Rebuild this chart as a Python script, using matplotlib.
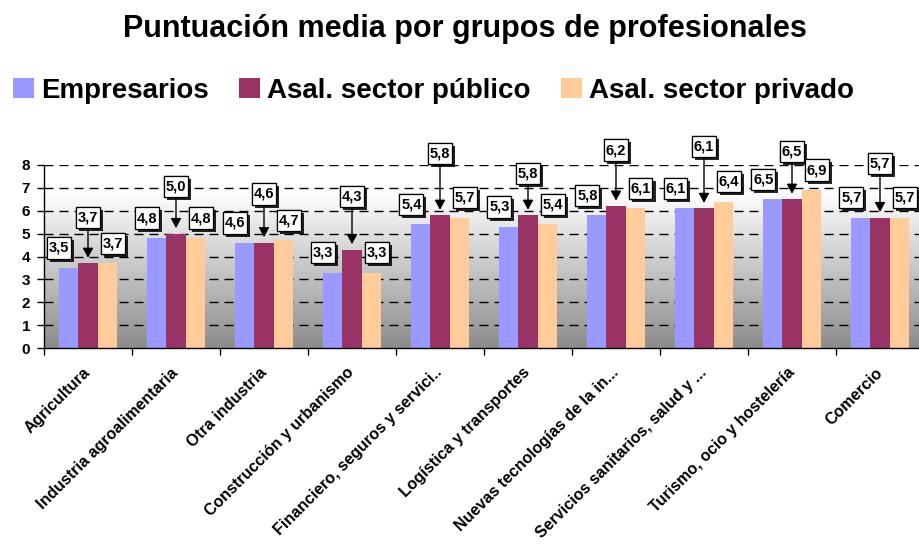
import matplotlib
matplotlib.use("Agg")
import matplotlib.pyplot as plt
import matplotlib.patheffects as pe
from matplotlib.patches import Patch
from matplotlib.path import Path
import numpy as np

plt.rcParams["font.family"] = ["Liberation Sans", "DejaVu Sans"]

categories = ["Agricultura", "Industria agroalimentaria", "Otra industria",
              "Construcción y urbanismo", "Financiero, seguros y servici..",
              "Logística y transportes", "Nuevas tecnologías de la in...",
              "Servicios sanitarios, salud y ...", "Turismo, ocio y hostelería",
              "Comercio"]
series_names = ["Empresarios", "Asal. sector público", "Asal. sector privado"]
empresarios = [3.5, 4.8, 4.6, 3.3, 5.4, 5.3, 5.8, 6.1, 6.5, 5.7]
publico = [3.7, 5.0, 4.6, 4.3, 5.8, 5.8, 6.2, 6.1, 6.5, 5.7]
privado = [3.7, 4.8, 4.7, 3.3, 5.7, 5.4, 6.1, 6.4, 6.9, 5.7]
y_ticks = [0, 1, 2, 3, 4, 5, 6, 7, 8]

colors = ["#9999FF", "#993366", "#FFCC99"]
# how high (pixels) the "público" call-out sits above its bar, as placed in the original
pub_rise = [46, 47, 49, 53, 62, 42, 56, 62, 48, 54]

W, H = 920, 547
fig = plt.figure(figsize=(W / 100, H / 100), dpi=100)
ax = fig.add_axes([44 / W, 1 - 348 / H, 880 / W, 183 / H])

x = np.arange(len(categories))
bw = 0.223
ax.set_xlim(-0.5, len(categories) - 0.5)
ax.set_ylim(0, 8)

# grey-to-white plot area fill
yy = np.linspace(0, 8, 200)
shade = np.clip(0.55 + 0.45 * yy / 6.8, 0, 1)
grad = np.repeat(shade[:, None], 3, axis=1)[:, None, :]
ax.imshow(grad, extent=(-0.5, len(categories) - 0.5, 0, 8), origin="lower",
          aspect="auto", zorder=0, interpolation="bilinear")

for v in y_ticks[1:]:
    ax.axhline(v, color="black", lw=1, ls=(0, (6.5, 4.3)), zorder=1)

for k, vals in enumerate([empresarios, publico, privado]):
    ax.bar(x + (k - 1) * bw, vals, width=bw, color=colors[k], zorder=2,
           label=series_names[k])


def fmt(v):
    return f"{v:.1f}".replace(".", ",")


def tall_box(x0, y0, width, height, mutation_size):
    # Excel's label boxes are nearly square: little side padding, more top/bottom
    px, py = 0.12 * mutation_size, 0.26 * mutation_size
    a, b = x0 - px, y0 - py
    c, d = x0 + width + px, y0 + height + py
    return Path([(a, b), (c, b), (c, d), (a, d), (a, b)], closed=True)


def callout(xp, yp, dx, dy, arrow=False):
    kw = dict(xy=(xp, yp), xytext=(dx, dy), textcoords="offset pixels",
              ha="center", va="center", fontsize=10.5, fontweight="bold",
              zorder=6, annotation_clip=False,
              bbox=dict(boxstyle=tall_box, fc="white", ec="black", lw=0.9))
    if arrow:
        kw["arrowprops"] = dict(arrowstyle="-|>,head_length=0.55,head_width=0.3",
                                color="black", lw=1, shrinkA=0, shrinkB=4)
    ann = ax.annotate(fmt(yp), **kw)
    ann.get_bbox_patch().set_path_effects(
        [pe.withSimplePatchShadow(offset=(2.2, -2.2), shadow_rgbFace="black", alpha=0.85),
         pe.Normal()])
    return ann


for i in range(len(categories)):
    callout(x[i] - bw, empresarios[i], -9, 20)
for i in range(len(categories)):
    callout(x[i], publico[i], 0, pub_rise[i], arrow=True)
for i in range(len(categories)):
    callout(x[i] + bw, privado[i], 5, 20)

for s in ["top", "right"]:
    ax.spines[s].set_visible(False)
for s in ["left", "bottom"]:
    ax.spines[s].set_color("black")
    ax.spines[s].set_linewidth(1)
    ax.spines[s].set_zorder(3)

ax.set_yticks(y_ticks)
ax.set_yticklabels([str(v) for v in y_ticks], fontsize=11, fontweight="bold")
ax.tick_params(axis="y", length=5, width=1, pad=5)

ax.set_xticks(x)
ax.set_xticklabels(categories, rotation=45, ha="right", va="center",
                   rotation_mode="anchor", fontsize=11.5, fontweight="bold")
ax.set_xticks(np.arange(-0.5, len(categories)), minor=True)
ax.tick_params(axis="x", which="major", length=0, pad=16)
ax.tick_params(axis="x", which="minor", length=5, width=1)

fig.text(465 / W, 1 - 37 / H, "Puntuación media por grupos de profesionales",
         ha="center", va="baseline", fontsize=22, fontweight="bold")

handles = [Patch(facecolor=c, edgecolor="none") for c in colors]
fig.legend(handles, series_names, loc="center left", bbox_to_anchor=(13 / W, 1 - 91 / H),
           ncol=3, frameon=False, borderpad=0, borderaxespad=0,
           handlelength=0.75, handleheight=0.75, handletextpad=0.25, columnspacing=1.1,
           prop=dict(weight="bold", size=20))

fig.savefig("out.png", dpi=100)
